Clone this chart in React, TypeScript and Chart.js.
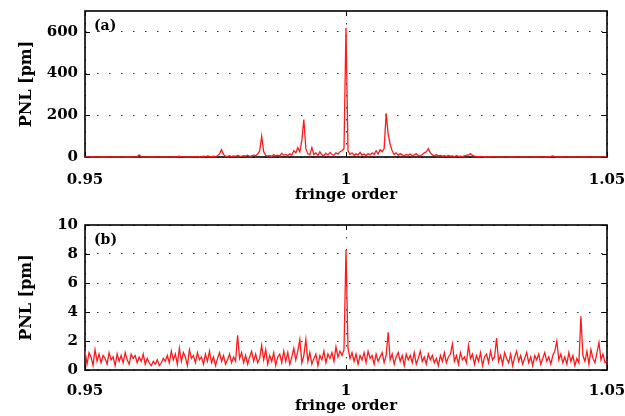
import React, { useEffect, useRef } from "react";
import { Chart, registerables } from "chart.js";

Chart.register(...registerables);

// ---- data ----
const FRINGE_MIN = 0.95;
const FRINGE_MAX = 1.05;
const xTicks = [0.95, 1, 1.05];
const xTickLabels = ["0.95", "1", "1.05"];
const yTicksA = [0, 200, 400, 600];
const yTicksB = [0, 2, 4, 6, 8, 10];
const yMaxA = 700;
const yMaxB = 10;
const xTitle = "fringe order";
const yTitle = "PNL [pm]";
const panelLabels = ["(a)", "(b)"];

// PNL values of panel (a), sampled evenly from 0.95 to 1.05
const pnlA = [
  1, 0.5, 1, 0.5, 0.5, 1, 0.5, 0.5, 1, 0.5, 0.5, 1, 0.5, 0.5, 1, 0.5, 0.5, 1, 0.5, 0.5,
  0.5, 1, 0.5, 0.5, 1, 0.5, 2, 10, 2, 0.5, 1, 0.5, 0.5, 1, 0.5, 0.5, 1, 0.5, 0.5, 1,
  0.5, 0.5, 1, 0.5, 0.5, 1, 2, 4, 1, 0.5, 1, 2, 1, 0.5, 2, 1, 3, 1, 2, 4,
  2, 5, 3, 1, 4, 2, 6, 15, 35, 12, 4, 3, 6, 2, 5, 3, 7, 4, 3, 6,
  4, 8, 3, 5, 10, 6, 14, 30, 100, 25, 8, 4, 7, 3, 12, 5, 9, 4, 18, 8,
  12, 6, 15, 9, 30, 20, 45, 25, 80, 180, 40, 15, 10, 45, 12, 20, 8, 25, 10, 6,
  18, 9, 22, 12, 8, 20, 14, 25, 30, 40, 620, 30, 12, 20, 8, 15, 10, 22, 9, 14,
  6, 16, 10, 20, 12, 30, 15, 35, 25, 40, 210, 110, 60, 30, 12, 20, 8, 16, 10, 6,
  12, 8, 14, 6, 10, 15, 8, 5, 12, 20, 25, 40, 20, 10, 6, 12, 5, 8, 4, 6,
  3, 7, 4, 5, 2, 6, 3, 4, 2, 5, 8, 10, 15, 8, 4, 3, 2, 3, 1, 2,
  1, 2, 1, 1, 0.5, 1, 1, 0.5, 1, 0.5, 0.5, 1, 0.5, 0.5, 1, 0.5, 0.5, 1, 0.5, 0.5,
  0.5, 1, 0.5, 0.5, 1, 0.5, 0.5, 1, 0.5, 1, 1, 2, 3, 5, 2, 1, 0.5, 0.5, 1, 0.5,
  0.5, 1, 0.5, 0.5, 1, 0.5, 0.5, 1, 0.5, 0.5, 1, 0.5, 0.5, 1, 0.5, 0.5, 1, 0.5, 0.5, 1,
  0.5,
];

// PNL values of panel (b), sampled evenly from 0.95 to 1.05
const pnlB = [
  1.3, 0.4, 1.2, 0.9, 0.3, 1.4, 0.6, 1.1, 0.5, 1.0, 0.8, 0.4, 1.2, 0.7, 0.9, 0.3, 1.1, 0.6, 1.0, 0.5,
  1.2, 0.7, 0.4, 1.1, 0.8, 1.0, 0.5, 0.9, 0.6, 1.1, 0.4, 0.8, 0.5, 0.3, 0.6, 0.4, 0.7, 0.3, 0.5, 0.8,
  0.6, 1.0, 0.5, 1.3, 0.7, 1.1, 0.4, 1.5, 0.6, 1.2, 0.9, 0.3, 1.4, 0.8, 1.0, 0.5, 1.2, 0.7, 0.9, 0.4,
  1.1, 0.6, 1.3, 0.5, 0.9, 0.3, 0.8, 1.2, 0.6, 1.0, 0.4, 0.7, 1.1, 0.5, 0.9, 0.6, 2.4, 0.8, 1.2, 0.5,
  1.0, 0.4, 0.9, 1.3, 0.6, 1.1, 0.5, 0.8, 1.7, 0.7, 1.4, 0.4, 1.0, 0.6, 1.2, 0.3, 0.9, 1.1, 0.5, 1.3,
  0.6, 1.2, 0.4, 0.9, 1.5, 0.7, 1.3, 2.1, 0.5, 1.0, 2.1, 0.6, 1.2, 0.4, 0.8, 1.1, 0.3, 1.0, 0.7, 1.3,
  0.5, 1.1, 0.8, 1.2, 0.6, 1.6, 0.9, 1.3, 1.0, 1.4, 8.3, 1.5, 0.8, 1.2, 0.6, 1.1, 0.4, 1.0, 0.7, 1.2,
  0.5, 1.3, 0.8, 1.0, 0.4, 1.1, 0.6, 0.9, 1.2, 0.5, 1.0, 2.6, 0.7, 1.1, 0.4, 0.9, 1.2, 0.6, 1.0, 0.3,
  1.1, 0.7, 1.0, 0.5, 1.2, 0.4, 0.8, 1.3, 0.6, 0.9, 0.4, 1.1, 0.7, 1.0, 0.5, 0.8, 0.3, 1.0, 0.6, 1.2,
  0.5, 0.9, 1.1, 1.8, 0.6, 1.0, 0.4, 1.2, 0.7, 0.9, 0.5, 1.7, 0.8, 1.1, 0.4, 1.0, 0.6, 1.2, 0.3, 0.9,
  1.1, 0.5, 1.3, 0.7, 0.9, 2.2, 0.6, 1.0, 0.4, 1.2, 0.8, 0.5, 1.1, 0.3, 0.9, 1.3, 0.6, 1.0, 0.4, 0.8,
  1.2, 0.5, 0.9, 0.3, 1.0, 0.7, 1.1, 0.4, 0.8, 1.2, 0.6, 0.9, 0.4, 1.0, 1.3, 2.0, 0.7, 1.1, 0.5, 0.9,
  0.4, 1.2, 0.6, 1.0, 0.3, 0.8, 0.5, 3.7, 1.0, 0.6, 1.3, 0.4, 1.4, 0.8, 0.5, 1.2, 1.9, 0.7, 1.1, 0.5,
  0.6,
];

const FONT_FAMILY = "'DejaVu Serif', serif";
const TICK_FONT = { family: FONT_FAMILY, size: 15, weight: "bold" as const };
const XTITLE_FONT = { family: FONT_FAMILY, size: 15, weight: "bold" as const };
const YTITLE_FONT = { family: FONT_FAMILY, size: 16, weight: "bold" as const };

function toPoints(values: number[]) {
  const n = values.length;
  return values.map((y, i) => ({
    x: FRINGE_MIN + (i * (FRINGE_MAX - FRINGE_MIN)) / (n - 1),
    y,
  }));
}

const framePlugin = {
  id: "frame",
  beforeDatasetsDraw(chart: any) {
    const { ctx, chartArea } = chart;
    const { left, right, top, bottom } = chartArea;
    const xs = chart.scales.x;
    const ys = chart.scales.y;
    const tl = 5;
    ctx.save();
    ctx.strokeStyle = "#000";
    ctx.lineWidth = 1;
    ctx.beginPath();
    for (const t of ys.ticks) {
      const py = Math.round(ys.getPixelForValue(t.value)) + 0.5;
      ctx.moveTo(left, py);
      ctx.lineTo(left + tl, py);
      ctx.moveTo(right, py);
      ctx.lineTo(right - tl, py);
    }
    for (const t of xs.ticks) {
      const px = Math.round(xs.getPixelForValue(t.value)) + 0.5;
      ctx.moveTo(px, top);
      ctx.lineTo(px, top + tl);
      ctx.moveTo(px, bottom);
      ctx.lineTo(px, bottom - tl);
    }
    ctx.stroke();
    ctx.lineWidth = 1.6;
    ctx.strokeRect(left, top, right - left, bottom - top);
    ctx.restore();
  },
  afterDraw(chart: any, _args: any, opts: any) {
    const { ctx, chartArea } = chart;
    ctx.save();
    ctx.fillStyle = "#000";
    ctx.font = `bold 14px ${FONT_FAMILY}`;
    ctx.textAlign = "left";
    ctx.textBaseline = "middle";
    ctx.fillText(opts.label, chartArea.left + 9, chartArea.top + 15);
    ctx.restore();
  },
};

function makeConfig(
  values: number[],
  yMax: number,
  yTicks: number[],
  label: string,
  padTop: number,
  xHeight: number,
  xTickPad: number,
  xTitlePadBottom: number
): any {
  return {
    type: "line",
    data: {
      datasets: [
        {
          data: toPoints(values),
          borderColor: "#ff1a1a",
          borderWidth: 1.3,
          pointRadius: 0,
          tension: 0,
          fill: false,
          clip: 2,
        },
      ],
    },
    options: {
      responsive: false,
      animation: false,
      events: [],
      layout: { padding: { top: padTop, right: 18, left: 0, bottom: 0 } },
      plugins: {
        legend: { display: false },
        tooltip: { enabled: false },
        frame: { label },
      },
      scales: {
        x: {
          type: "linear",
          min: FRINGE_MIN,
          max: FRINGE_MAX,
          afterBuildTicks: (s: any) => {
            s.ticks = xTicks.map((v) => ({ value: v }));
          },
          afterFit: (s: any) => {
            s.height = xHeight;
            s.paddingLeft = 0;
            s.paddingRight = 0;
          },
          ticks: {
            autoSkip: false,
            maxRotation: 0,
            padding: xTickPad,
            color: "#000",
            font: TICK_FONT,
            callback: (v: number) => {
              const idx = xTicks.findIndex((t) => Math.abs(t - v) < 1e-9);
              return idx >= 0 ? xTickLabels[idx] : "";
            },
          },
          grid: { color: "#333", lineWidth: 1, drawTicks: false },
          border: { display: false, dash: [1.5, 10.5] },
          title: {
            display: true,
            text: xTitle,
            color: "#000",
            font: XTITLE_FONT,
            padding: { top: 0, bottom: xTitlePadBottom },
          },
        },
        y: {
          type: "linear",
          min: 0,
          max: yMax,
          afterBuildTicks: (s: any) => {
            s.ticks = yTicks.map((v) => ({ value: v }));
          },
          afterFit: (s: any) => {
            s.width = 85;
            s.paddingTop = 0;
            s.paddingBottom = 0;
          },
          ticks: {
            padding: 7,
            color: "#000",
            font: TICK_FONT,
            callback: (v: number) => String(v),
          },
          grid: { color: "#333", lineWidth: 1, drawTicks: false },
          border: { display: false, dash: [1.5, 10.5] },
          title: {
            display: true,
            text: yTitle,
            color: "#000",
            font: YTITLE_FONT,
            padding: { top: 17, bottom: 0 },
          },
        },
      },
    },
    plugins: [framePlugin],
  };
}

function Panel(props: {
  values: number[];
  yMax: number;
  yTicks: number[];
  label: string;
  top: number;
  height: number;
  padTop: number;
  xHeight: number;
  xTickPad: number;
  xTitlePadBottom: number;
}) {
  const ref = useRef<HTMLCanvasElement | null>(null);
  useEffect(() => {
    if (!ref.current) return;
    const chart = new Chart(
      ref.current,
      makeConfig(
        props.values,
        props.yMax,
        props.yTicks,
        props.label,
        props.padTop,
        props.xHeight,
        props.xTickPad,
        props.xTitlePadBottom
      )
    );
    return () => chart.destroy();
  }, []);
  return (
    <canvas
      ref={ref}
      width={625}
      height={props.height}
      style={{
        position: "absolute",
        left: 0,
        top: props.top,
        width: 625,
        height: props.height,
        display: "block",
      }}
    />
  );
}

export default function App() {
  return (
    <div
      style={{
        position: "absolute",
        left: 0,
        top: 0,
        width: 625,
        height: 416,
        background: "#fff",
        overflow: "hidden",
      }}
    >
      <Panel
        values={pnlA}
        yMax={yMaxA}
        yTicks={yTicksA}
        label={panelLabels[0]}
        top={0}
        height={210}
        padTop={11}
        xHeight={53}
        xTickPad={14}
        xTitlePadBottom={6}
      />
      <Panel
        values={pnlB}
        yMax={yMaxB}
        yTicks={yTicksB}
        label={panelLabels[1]}
        top={210}
        height={206}
        padTop={15}
        xHeight={46}
        xTickPad={12}
        xTitlePadBottom={0.5}
      />
    </div>
  );
}
